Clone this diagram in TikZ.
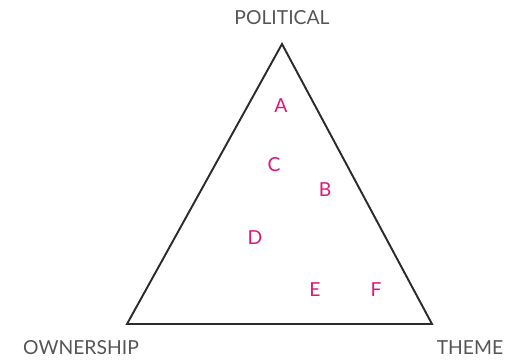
\documentclass[tikz,border=0pt]{standalone}
\usepackage{fontspec}
\setmainfont{Lato}
\usepackage{xcolor}
\definecolor{labelgray}{HTML}{555555}
\definecolor{pointpink}{HTML}{D8197A}
\definecolor{edgegray}{HTML}{2B2B2B}

\begin{document}
\begin{tikzpicture}[x=0.02cm, y=-0.02cm,
  corner/.style={font=\fontsize{11}{13}\selectfont, text=labelgray, inner sep=0pt},
  pt/.style={font=\fontsize{11}{13}\selectfont, text=pointpink, inner sep=0pt},
  edge/.style={draw=edgegray, line width=1.1pt, line join=miter}
]
\useasboundingbox (0,0) rectangle (530,362);

% Triangle corners
\coordinate (top)   at (282,44);
\coordinate (left)  at (127,324);
\coordinate (right) at (432,324);
\draw[edge] (top) -- (right) -- (left) -- cycle;

% Corner labels
\node[corner] (political) at (282,18)  {POLITICAL};
\node[corner] (ownership) at (81,348)  {OWNERSHIP};
\node[corner] (theme)     at (470,348) {THEME};

% Points
\foreach \name/\x/\y in {A/281/106, C/274/165, B/325/190, D/255/238, E/315/290, F/376/290}
  \node[pt] (pt\name) at (\x,\y) {\name};

\end{tikzpicture}
\end{document}
